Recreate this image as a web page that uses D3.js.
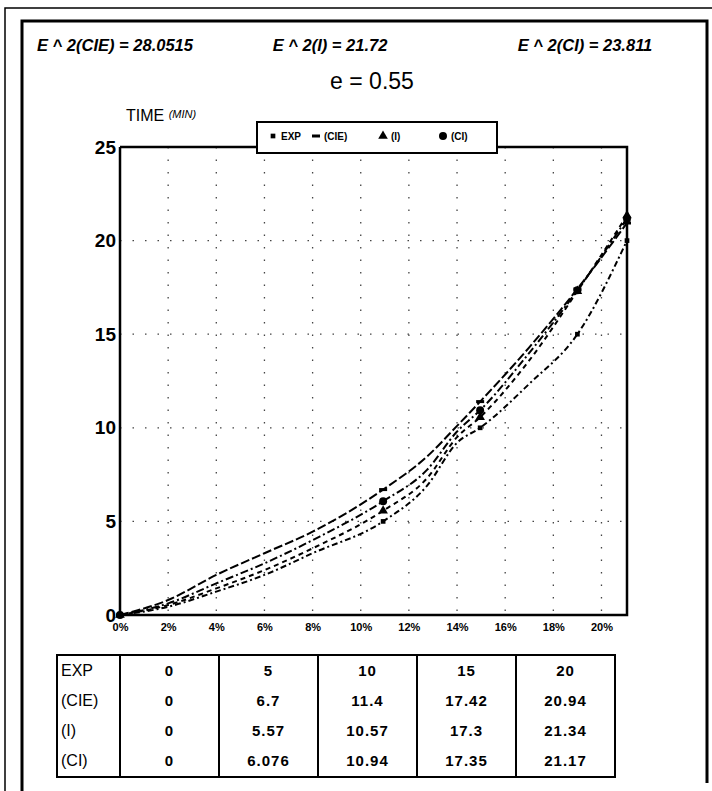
<!DOCTYPE html>
<html><head><meta charset="utf-8">
<script src="https://cdn.jsdelivr.net/npm/d3@7"></script>
<style>body{margin:0;background:#fff}svg{display:block}</style>
</head><body>
<svg id="c" width="712" height="791"></svg>
<script>
// ---------- data ----------
const strain   = [0, 2, 4, 6, 8, 10.93, 12.75, 14.0, 14.96, 17.0, 19.0, 21.06];
const expTime  = [0, 0.44, 1.25, 2.14, 3.3, 5.0, 6.9, 9.2, 10.0, 12.35, 15.0, 20.0];
const cieTime  = [0, 0.8, 2.14, 3.3, 4.45, 6.7, 8.46, 10.1, 11.4, 14.3, 17.42, 20.94];
const iTime    = [0, 0.53, 1.42, 2.4, 3.56, 5.57, 7.3, 9.5, 10.57, 13.6, 17.3, 21.34];
const ciTime   = [0, 0.62, 1.69, 2.76, 4.0, 6.076, 7.75, 9.8, 10.94, 14.0, 17.35, 21.17];
const tableStrain = [0, 10.93, 14.96, 19.0, 21.06];
const seriesNames = ["EXP", "(CIE)", "(I)", "(CI)"];
const tableExp = ["0", "5", "10", "15", "20"];
const tableCie = ["0", "6.7", "11.4", "17.42", "20.94"];
const tableI   = ["0", "5.57", "10.57", "17.3", "21.34"];
const tableCi  = ["0", "6.076", "10.94", "17.35", "21.17"];
const yTicks = [0, 5, 10, 15, 20, 25];
const xTicks = [0, 2, 4, 6, 8, 10, 12, 14, 16, 18, 20];
const errorLabels = ["E ^ 2(CIE) = 28.0515", "E ^ 2(I) = 21.72", "E ^ 2(CI) = 23.811"];
const titleText = "e = 0.55";
const yTitle = "TIME";
const yUnit = "(MIN)";

// ---------- layout ----------
const svg = d3.select("#c");
const FONT = "'Liberation Sans',Arial,sans-serif";
const L = 120, R = 627, T = 147, B = 615;
const x = d3.scaleLinear().domain([0, 21.06]).range([L, R]);
const y = d3.scaleLinear().domain([0, 25]).range([B, T]);

// frames
svg.append("path").attr("d", "M5,791 V8 H712").attr("fill", "none").attr("stroke", "#000").attr("stroke-width", 1.5);
svg.append("path").attr("d", "M22,791 V21 H707 V783").attr("fill", "none").attr("stroke", "#000").attr("stroke-width", 3);

// header texts
const hx = [115, 330, 585];
svg.selectAll("text.err").data(errorLabels).join("text")
  .attr("class", "err").attr("x", (d, i) => hx[i]).attr("y", 51)
  .attr("text-anchor", "middle").attr("font-family", FONT).attr("font-weight", "bold")
  .attr("font-style", "italic").attr("font-size", 16.5).text(d => d);
svg.append("text").attr("x", 372).attr("y", 89).attr("text-anchor", "middle")
  .attr("font-family", FONT).attr("font-size", 23).text(titleText);
const yt = svg.append("text").attr("x", 126).attr("y", 121).attr("font-family", FONT).attr("font-size", 16);
yt.append("tspan").text(yTitle + " ");
yt.append("tspan").attr("font-size", 11).attr("font-style", "italic").attr("dy", -3).text(yUnit);

// grid
const grid = svg.append("g").attr("stroke", "#444").attr("stroke-width", 1.3).attr("stroke-dasharray", "1.5,11");
grid.selectAll("line.h").data(yTicks.filter(d => d > 0 && d < 25)).join("line")
  .attr("x1", L).attr("x2", R).attr("y1", d => y(d)).attr("y2", d => y(d));
grid.selectAll("line.v").data(xTicks.filter(d => d > 0)).join("line")
  .attr("x1", d => x(d)).attr("x2", d => x(d)).attr("y1", T).attr("y2", B);

// axes
const yAxis = svg.append("g").attr("transform", `translate(${L - 4},0)`)
  .call(d3.axisLeft(y).tickValues(yTicks).tickSize(0).tickPadding(0).tickFormat(d3.format("d")));
yAxis.select(".domain").remove();
yAxis.selectAll("text").attr("font-family", FONT).attr("font-weight", "bold").attr("font-size", 19).attr("fill", "#000");

const xAxis = svg.append("g").attr("transform", `translate(0,${B + 8})`)
  .call(d3.axisBottom(x).tickValues(xTicks).tickSize(0).tickPadding(0).tickFormat(d => d + "%"));
xAxis.select(".domain").remove();
xAxis.selectAll("text").attr("font-family", FONT).attr("font-weight", "bold").attr("font-size", 11).attr("fill", "#000");

// plot frame
svg.append("path").attr("d", `M${L},${T} V${B} H${R} V${T} H${L}`)
  .attr("fill", "none").attr("stroke", "#000").attr("stroke-width", 2.5);

// series
const series = [
  {name: seriesNames[0], t: expTime, dash: "6,3,2,3", marker: "square"},
  {name: seriesNames[1], t: cieTime, dash: "9,3", marker: "dash"},
  {name: seriesNames[2], t: iTime, dash: "5,4", marker: "triangle"},
  {name: seriesNames[3], t: ciTime, dash: "8,3,2,3", marker: "circle"}
];
const line = d3.line().x(d => x(d[0])).y(d => y(d[1])).curve(d3.curveMonotoneX);
const sym = {
  square: d3.symbol().type(d3.symbolSquare).size(22),
  triangle: d3.symbol().type(d3.symbolTriangle).size(40),
  circle: d3.symbol().type(d3.symbolCircle).size(50)
};
function drawMarker(g, kind, cx, cy) {
  if (kind === "dash") {
    g.append("rect").attr("x", cx - 4).attr("y", cy - 1.5).attr("width", 8).attr("height", 3).attr("fill", "#000");
  } else {
    g.append("path").attr("d", sym[kind]()).attr("transform", `translate(${cx},${cy})`).attr("fill", "#000");
  }
}
const sg = svg.append("g");
series.forEach(s => {
  const pts = strain.map((v, i) => [v, s.t[i]]);
  sg.append("path").attr("d", line(pts)).attr("fill", "none").attr("stroke", "#000")
    .attr("stroke-width", 2).attr("stroke-dasharray", s.dash);
  pts.filter(p => tableStrain.includes(p[0])).forEach(p => drawMarker(sg, s.marker, x(p[0]), y(p[1])));
});

// legend
const lg = svg.append("g");
lg.append("rect").attr("x", 257).attr("y", 122).attr("width", 240).attr("height", 31)
  .attr("fill", "#fff").attr("stroke", "#000").attr("stroke-width", 2);
const legX = [273, 316, 383, 443];
series.forEach((s, i) => {
  drawMarker(lg, s.marker, legX[i], 136);
  lg.append("text").attr("x", legX[i] + 8).attr("y", 140).attr("font-family", FONT)
    .attr("font-weight", "bold").attr("font-size", 10).text(s.name);
});

// table
const tbl = svg.append("g");
const tTop = 655, tBot = 777, tLeft = 57, tRight = 615, c0 = 120;
const colEdges = d3.range(6).map(i => c0 + i * (tRight - c0) / 5);
tbl.append("rect").attr("x", tLeft).attr("y", tTop).attr("width", tRight - tLeft).attr("height", tBot - tTop)
  .attr("fill", "none").attr("stroke", "#000").attr("stroke-width", 2);
colEdges.slice(0, 5).forEach(cx => tbl.append("line").attr("x1", cx).attr("x2", cx)
  .attr("y1", tTop).attr("y2", tBot).attr("stroke", "#000").attr("stroke-width", 2));
const rows = [tableExp, tableCie, tableI, tableCi];
const rowY = [676, 706, 736, 766];
rows.forEach((r, ri) => {
  tbl.append("text").attr("x", tLeft + 4).attr("y", rowY[ri]).attr("font-family", FONT)
    .attr("font-size", 16).text(seriesNames[ri]);
  r.forEach((v, ci) => tbl.append("text").attr("x", (colEdges[ci] + colEdges[ci + 1]) / 2).attr("y", rowY[ri])
    .attr("text-anchor", "middle").attr("font-family", FONT).attr("font-weight", "bold").attr("font-size", 15)
    .attr("letter-spacing", 1).text(v));
});
</script>
</body></html>
